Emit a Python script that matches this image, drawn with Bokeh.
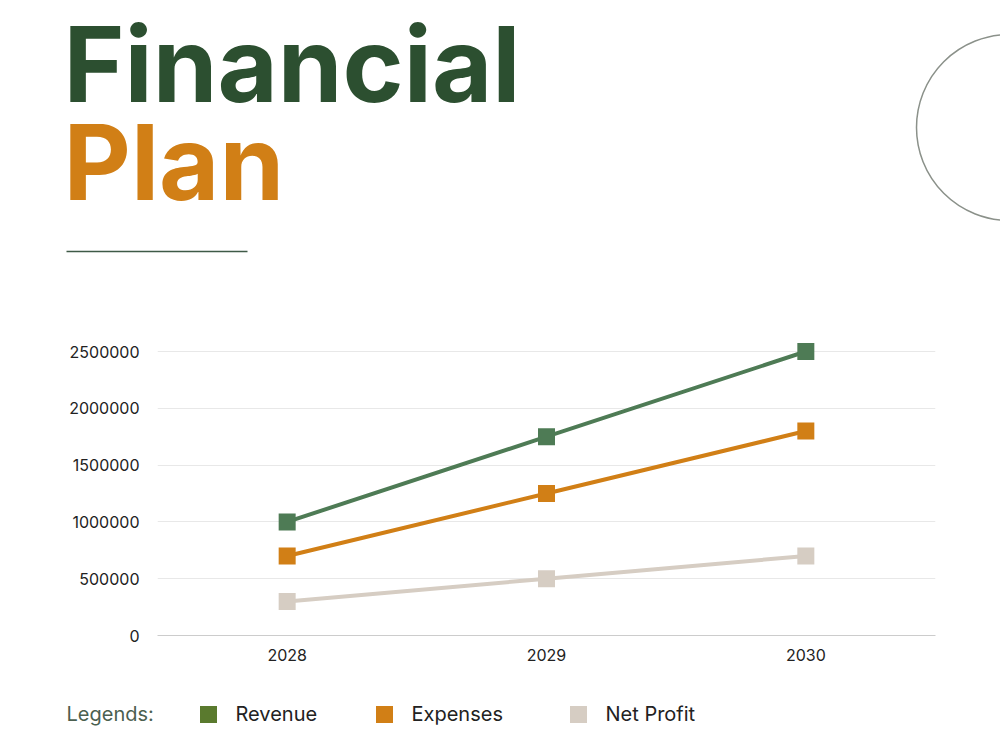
from bokeh.plotting import figure
from bokeh.layouts import column, row
from bokeh.models import Range1d, FixedTicker, BasicTickFormatter
from bokeh.core.properties import value
from bokeh.embed import file_html
from bokeh.resources import INLINE

# ---- data ----
years = [2028, 2029, 2030]
revenue = [1000000, 1750000, 2500000]
expenses = [700000, 1250000, 1800000]
net_profit = [300000, 500000, 700000]
series_names = ["Revenue", "Expenses", "Net Profit"]
line_colors = ["#4e7b55", "#d17f16", "#d6cdc3"]
legend_colors = ["#5a7a2e", "#d17f16", "#d6cdc3"]
y_ticks = [0, 500000, 1000000, 1500000, 2000000, 2500000]

W = 1000
FONT = "Inter"

def blank(h):
    f = figure(width=W, height=h, x_range=Range1d(0, W), y_range=Range1d(h, 0),
               output_backend="svg", toolbar_location=None, min_border=0)
    f.axis.visible = False
    f.grid.visible = False
    f.outline_line_color = None
    return f

# ---- header ----
hdr = blank(300)
hdr.text(x=[63], y=[0], text=["Financial"], text_font=value(FONT), text_font_style="bold",
         text_font_size="104px", text_color="#2c4f30", text_baseline="top")
hdr.text(x=[63], y=[98], text=["Plan"], text_font=value(FONT), text_font_style="bold",
         text_font_size="104px", text_color="#d17f16", text_baseline="top")
hdr.segment(x0=[66], y0=[251], x1=[247], y1=[251], line_color="#3f5a47", line_width=1.5)
hdr.circle(x=[1009], y=[127], radius=93, fill_color=None, line_color="#8b918a", line_width=1.5)

# ---- chart ----
FRAME_TOP_PAD = 11
y_end = 2500000 * (284 + FRAME_TOP_PAD) / 284
p = figure(width=W, height=390, x_range=Range1d(2027.5, 2030.5), y_range=Range1d(0, y_end),
           output_backend="svg", toolbar_location=None,
           min_border_left=157, min_border_right=65, min_border_top=40, min_border_bottom=55)
p.outline_line_color = None
p.xgrid.visible = False
p.ygrid.grid_line_color = "#e8e8e8"
p.ygrid.grid_line_width = 1
p.yaxis.ticker = FixedTicker(ticks=y_ticks)
p.yaxis.formatter = BasicTickFormatter(use_scientific=False)
p.xaxis.ticker = FixedTicker(ticks=years)
p.xaxis.formatter = BasicTickFormatter(use_scientific=False)
for ax in (p.xaxis, p.yaxis):
    ax.major_tick_line_color = None
    ax.minor_tick_line_color = None
    ax.major_label_text_font = FONT
    ax.major_label_text_font_size = "16px"
    ax.major_label_text_color = "#222222"
p.yaxis.axis_line_color = None
p.yaxis.major_label_standoff = 12
p.xaxis.axis_line_color = "#cccccc"
p.xaxis.axis_line_width = 1
p.xaxis.major_label_standoff = 7

for vals, col in zip([revenue, expenses, net_profit], line_colors):
    p.line(years, vals, line_color=col, line_width=4)
    p.scatter(years, vals, marker="square", size=17, fill_color=col, line_color=None)

# ---- legend ----
lg = blank(60)
lg.text(x=[66], y=[23], text=["Legends:"], text_font=value(FONT), text_font_size="20px",
        text_color="#4b5f50", text_baseline="middle")
sq_x = [208, 384, 578]
lg.scatter(x=sq_x, y=[24] * 3, marker="square", size=17, fill_color=legend_colors, line_color=None)
lg.text(x=[x + 27 for x in sq_x], y=[23] * 3, text=series_names, text_font=value(FONT),
        text_font_size="20px", text_color="#222222", text_baseline="middle")

layout = column(row(hdr), p, row(lg), spacing=0)
open("out.html", "w").write(file_html(layout, INLINE))
